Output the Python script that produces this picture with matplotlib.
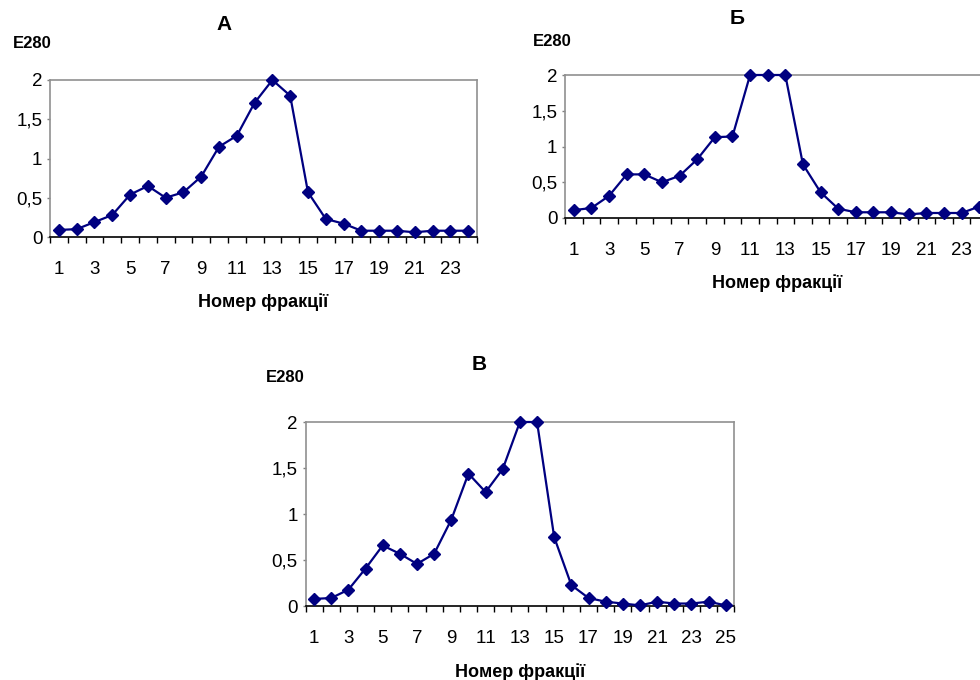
import matplotlib
matplotlib.use('Agg')
import matplotlib.pyplot as plt

plt.rcParams['font.family'] = ['Liberation Sans', 'DejaVu Sans']
plt.rcParams['text.kerning_factor'] = 6  # no tight "11"

W, H = 980, 680

# fraction values
e280_a = [0.09, 0.10, 0.19, 0.28, 0.54, 0.65, 0.50, 0.57, 0.77, 1.15, 1.29, 1.71,
          2.00, 1.80, 0.57, 0.23, 0.17, 0.08, 0.08, 0.08, 0.06, 0.08, 0.08, 0.08]
e280_b = [0.11, 0.14, 0.31, 0.61, 0.61, 0.50, 0.59, 0.82, 1.13, 1.14, 2.00, 2.00,
          2.00, 0.75, 0.36, 0.13, 0.08, 0.08, 0.08, 0.05, 0.07, 0.07, 0.07, 0.16]
e280_v = [0.08, 0.09, 0.18, 0.41, 0.66, 0.57, 0.46, 0.57, 0.94, 1.44, 1.24, 1.49,
          2.00, 2.00, 0.75, 0.23, 0.09, 0.05, 0.03, 0.01, 0.05, 0.03, 0.03, 0.05, 0.01]

y_ticks = [0, 0.5, 1, 1.5, 2]
y_labels = ['0', '0,5', '1', '1,5', '2']
titles = ['А', 'Б', 'В']
ylab = 'E280'
xlab = 'Номер фракції'

LINE = '#000080'


def px_axes(fig, left, top, right, bottom):
    return fig.add_axes([left / W, 1 - bottom / H, (right - left) / W, (bottom - top) / H])


def draw(ax, vals):
    n = len(vals)
    x = list(range(1, n + 1))
    ax.plot(x, vals, color=LINE, lw=1.6, marker='D', ms=6.5, mfc=LINE, mec=LINE,
            clip_on=False, zorder=5)
    ax.set_xlim(0.5, n + 0.5)
    ax.set_ylim(0, 2)
    # major ticks between categories, labels on odd fractions
    ax.set_xticks([i + 0.5 for i in range(n + 1)])
    ax.set_xticklabels([])
    ax.set_xticks(x[::2], minor=True)
    ax.set_xticklabels([str(v) for v in x[::2]], minor=True, fontsize=13.5)
    ax.tick_params(axis='x', which='major', length=4.5, width=1, color='black', direction='out')
    ax.tick_params(axis='x', which='minor', length=0, pad=17)
    ax.set_yticks(y_ticks)
    ax.set_yticklabels(y_labels, fontsize=13.5)
    ax.tick_params(axis='y', length=2.5, width=1, color='#808080', pad=3)
    for s in ['top', 'right', 'left']:
        ax.spines[s].set_color('#909090')
        ax.spines[s].set_linewidth(1.2)
    ax.spines['bottom'].set_color('black')
    ax.spines['bottom'].set_linewidth(1.2)


fig = plt.figure(figsize=(W / 100, H / 100), dpi=100)

ax_a = px_axes(fig, 50, 80, 477, 237)
draw(ax_a, e280_a)
ax_b = px_axes(fig, 565, 75, 988, 218)
draw(ax_b, e280_b)
ax_v = px_axes(fig, 305.5, 422, 734.3, 606.3)
draw(ax_v, e280_v)


def ftext(x, y, s, size, ha='center'):
    fig.text(x / W, 1 - y / H, s, fontsize=size, fontweight='bold', ha=ha, va='center')


ftext(224, 24, titles[0], 15)
ftext(13, 44, ylab, 12, ha='left')
ftext(263, 302, xlab, 13)

ftext(737, 19, titles[1], 15)
ftext(533, 42, ylab, 12, ha='left')
ftext(777, 283, xlab, 13)

ftext(479, 365, titles[2], 15)
ftext(266, 377, ylab, 12, ha='left')
ftext(520, 672, xlab, 13)

fig.savefig('out.png', dpi=100)
